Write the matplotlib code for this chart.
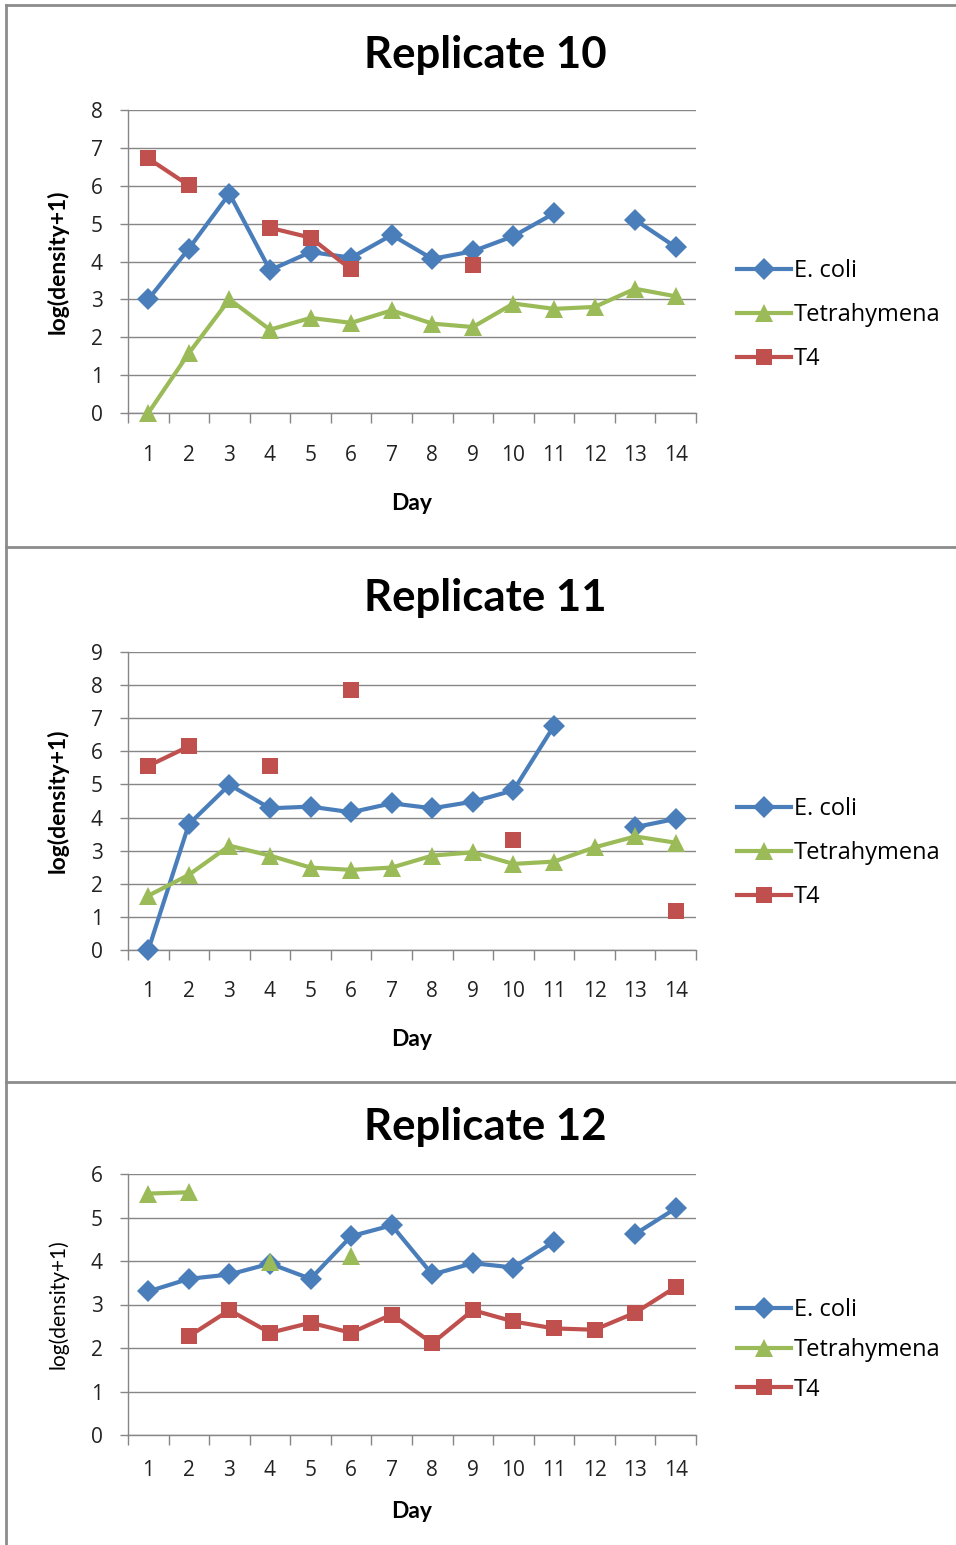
import numpy as np
import matplotlib
matplotlib.use("Agg")
import matplotlib.pyplot as plt
from matplotlib.lines import Line2D

nan = np.nan
days = list(range(1, 15))
day_labels = [str(d) for d in days]
series_names = ["E. coli", "Tetrahymena", "T4"]

# Replicate 10
r10_ecoli = [3.0, 4.34, 5.79, 3.77, 4.25, 4.1, 4.7, 4.07, 4.27, 4.67, 5.27, nan, 5.1, 4.38]
r10_tetra = [0.0, 1.58, 3.0, 2.2, 2.51, 2.38, 2.71, 2.36, 2.27, 2.89, 2.75, 2.8, 3.28, 3.08]
r10_t4 = [6.72, 6.01, nan, 4.89, 4.63, 3.79, nan, nan, 3.9, nan, nan, nan, nan, nan]

# Replicate 11
r11_ecoli = [0.0, 3.8, 4.99, 4.28, 4.33, 4.16, 4.43, 4.28, 4.48, 4.82, 6.77, nan, 3.71, 3.96]
r11_tetra = [1.64, 2.27, 3.15, 2.85, 2.49, 2.42, 2.49, 2.85, 2.95, 2.6, 2.67, 3.1, 3.43, 3.24]
r11_t4 = [5.56, 6.15, nan, 5.56, nan, 7.84, nan, nan, nan, 3.33, nan, nan, nan, 1.19]

# Replicate 12
r12_ecoli = [3.3, 3.59, 3.69, 3.94, 3.59, 4.57, 4.82, 3.69, 3.95, 3.85, 4.44, nan, 4.62, 5.21]
r12_tetra = [5.55, 5.58, nan, 3.98, nan, 4.11, nan, nan, nan, nan, nan, nan, nan, nan]
r12_t4 = [nan, 2.27, 2.87, 2.35, 2.58, 2.35, 2.77, 2.11, 2.87, 2.61, 2.45, 2.42, 2.81, 3.4]

titles = ["Replicate 10", "Replicate 11", "Replicate 12"]
ymaxs = [8, 9, 6]
data = [(r10_ecoli, r10_tetra, r10_t4), (r11_ecoli, r11_tetra, r11_t4), (r12_ecoli, r12_tetra, r12_t4)]

colors = ["#4A7EBB", "#9BBB59", "#C0504D"]
markers = ["D", "^", "s"]
msizes = [11.5, 13.5, 11.5]

FONT = "Open Sans"
TFONT = "Lato"
W, H = 956, 1545
fig = plt.figure(figsize=(W / 100, H / 100), dpi=100)

# axes pixel boxes: (left, top, right, bottom)
boxes = [(128, 110, 696, 413), (128, 652, 696, 950), (128, 1174, 696, 1435)]
title_y = [55, 598, 1127]
xlabel_y = [503, 1039, 1512]
legend_y = [315, 853, 1350]
label_spacing = [0.85, 0.85, 0.66]
xpads = [23, 22, 18]
ylab_size = [16.5, 16.5, 15]
ylab_weight = ["bold", "bold", "normal"]

def fx(x):
    return x / W

def fy(y):
    return 1 - y / H

grid_col = "#868686"
for i, (l, t, r, b) in enumerate(boxes):
    ax = fig.add_axes([fx(l), fy(b), fx(r - l), (b - t) / H])
    ys = data[i]
    handles = []
    for k in range(3):
        ln, = ax.plot(days, ys[k], color=colors[k], marker=markers[k], markersize=msizes[k],
                      linewidth=3.0, markeredgewidth=0, label=series_names[k], zorder=3)
        handles.append(ln)
    ax.set_xlim(0.5, 14.5)
    ax.set_ylim(0, ymaxs[i])
    ax.set_yticks(range(0, ymaxs[i] + 1))
    ax.set_xticks(days)
    ax.set_xticklabels(day_labels, fontsize=15, family=FONT, color="#222222")
    ax.set_xticks(np.arange(0.5, 15, 1), minor=True)
    ax.tick_params(axis="x", which="major", length=0, pad=xpads[i])
    ax.tick_params(axis="x", which="minor", length=7, color=grid_col, width=1)
    ax.tick_params(axis="y", which="major", length=6, color=grid_col, width=1, pad=12)
    for lab in ax.get_yticklabels():
        lab.set_fontsize(15)
        lab.set_family(FONT)
        lab.set_color("#222222")
    ax.grid(axis="y", color=grid_col, linewidth=1)
    ax.set_axisbelow(True)
    for s in ["top", "right"]:
        ax.spines[s].set_visible(False)
    for s in ["left", "bottom"]:
        ax.spines[s].set_color(grid_col)
        ax.spines[s].set_linewidth(1)
    for ln in ax.lines:
        ln.set_clip_on(False)

    fig.text(fx(485), fy(title_y[i]), titles[i], ha="center", va="center",
             fontsize=31.5, fontweight="bold", family=TFONT)
    fig.text(fx(412), fy(xlabel_y[i]), "Day", ha="center", va="center",
             fontsize=16.5, fontweight="bold", family=TFONT)
    fig.text(fx(58), fy((t + b) / 2 + 0), "log(density+1)", ha="center", va="center",
             rotation=90, fontsize=ylab_size[i], fontweight=ylab_weight[i], family=TFONT)

    fig.legend(handles=handles, loc="center left",
               bbox_to_anchor=(fx(737), fy(legend_y[i])), frameon=False,
               handlelength=2.3, handletextpad=0.12, labelspacing=label_spacing[i],
               borderpad=0, borderaxespad=0,
               prop={"family": FONT, "size": 17})

# panel borders
border_col = "#8C8C8C"
for y in [5, 547, 1082]:
    fig.add_artist(Line2D([fx(6), 1], [fy(y), fy(y)], color=border_col, linewidth=2))
fig.add_artist(Line2D([fx(6), fx(6)], [fy(5), 0], color=border_col, linewidth=2))

fig.savefig("out.png", dpi=100)
